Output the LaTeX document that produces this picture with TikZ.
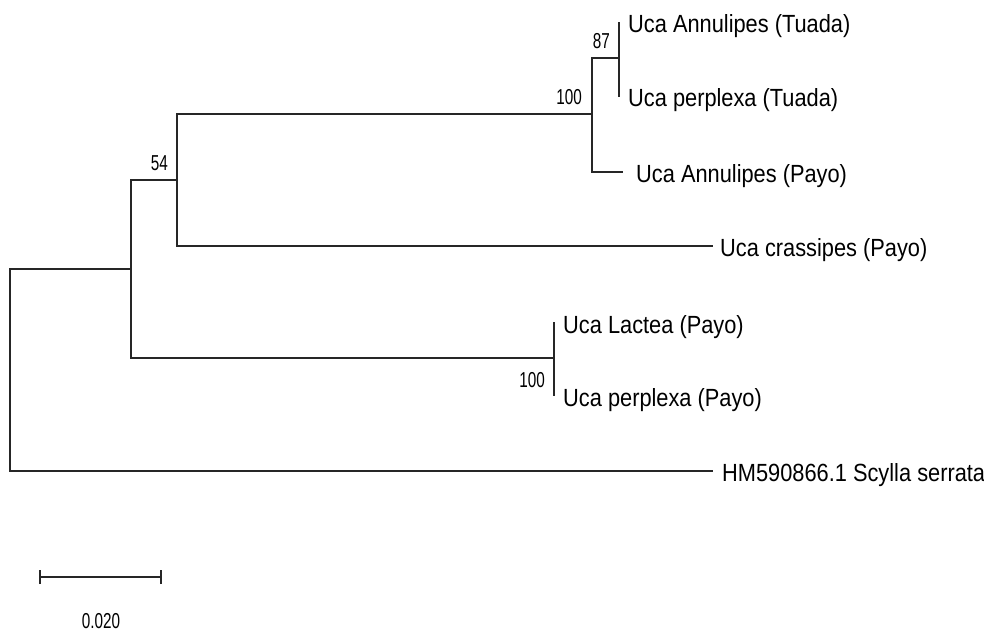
\documentclass[tikz,border=0pt]{standalone}
\usepackage{fontspec}
\setmainfont{Liberation Sans}
\usepackage{graphicx}
\begin{document}
\begin{tikzpicture}[x=1pt,y=-1pt,
  br/.style={line width=1.2pt, line cap=rect, color=black!85},
  leaf/.style={anchor=base west, inner sep=0pt, font=\fontsize{21.8}{24}\selectfont},
  boot/.style={anchor=base east, inner sep=0pt, font=\fontsize{18}{20}\selectfont}]
\useasboundingbox (0,0) rectangle (984,632);
% internal nodes
\coordinate (nR) at (10,370);
\coordinate (nA) at (131,269);
\coordinate (nB) at (177,180);
\coordinate (nC) at (592,114);
\coordinate (nD) at (619,58);
\coordinate (nE) at (554,358);
% leaf ends
\coordinate (eL1) at (619,23);
\coordinate (eL2) at (619,96);
\coordinate (eL3) at (622,172);
\coordinate (eL4) at (712,246);
\coordinate (eL5) at (554,323);
\coordinate (eL6) at (554,395);
\coordinate (eL7) at (712,471);
% branches
\draw[br] (nA) -| (nR) |- (eL7);
\draw[br] (nB) -| (nA) |- (nE);
\draw[br] (nC) -| (nB) |- (eL4);
\draw[br] (nD) -| (nC) |- (eL3);
\draw[br] (eL1) -- (eL2);
\draw[br] (eL5) -- (eL6);
% leaf labels
\node[leaf] (t1) at (628,32) {\scalebox{1}[1.14]{Uca Annulipes (Tuada)}};
\node[leaf] (t2) at (628,106) {\scalebox{1}[1.14]{Uca perplexa (Tuada)}};
\node[leaf] (t3) at (636,182) {\scalebox{1}[1.14]{Uca Annulipes (Payo)}};
\node[leaf] (t4) at (720,256) {\scalebox{1}[1.14]{Uca crassipes (Payo)}};
\node[leaf] (t5) at (563,333) {\scalebox{1}[1.14]{Uca Lactea (Payo)}};
\node[leaf] (t6) at (563,406) {\scalebox{1}[1.14]{Uca perplexa (Payo)}};
\node[leaf] (t7) at (722,481) {\scalebox{1}[1.14]{HM590866.1 Scylla serrata}};
% bootstrap values
\node[boot] (b87) at (610,48) {\scalebox{0.85}[1.2]{87}};
\node[boot] (b100a) at (582,104) {\scalebox{0.85}[1.2]{100}};
\node[boot] (b54) at (168,170) {\scalebox{0.85}[1.2]{54}};
\node[boot] (b100b) at (545,387) {\scalebox{0.85}[1.2]{100}};
% scale bar
\coordinate (s1) at (40,577);
\coordinate (s2) at (161,577);
\draw[br, line cap=butt] (s1) -- (s2);
\draw[br, line cap=butt] ([yshift=-7pt]s1) -- ([yshift=7pt]s1);
\draw[br, line cap=butt] ([yshift=-7pt]s2) -- ([yshift=7pt]s2);
\node[anchor=base, inner sep=0pt, font=\fontsize{18}{20}\selectfont] (sl) at (101,628) {\scalebox{0.85}[1.2]{0.020}};
\end{tikzpicture}
\end{document}
